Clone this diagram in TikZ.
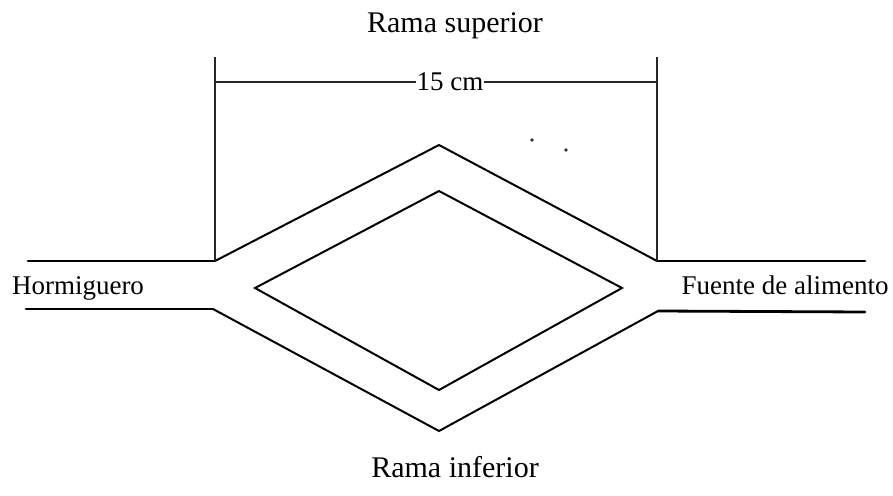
\documentclass[tikz,border=0pt]{standalone}
\usepackage{fontspec}
\setmainfont{Liberation Serif}
\begin{document}
\begin{tikzpicture}[x=1pt,y=-1pt,
  rail/.style={line width=2.8pt,line cap=round},
  wall/.style={line width=2pt,line join=miter},
  dimline/.style={line width=1.8pt,draw=black!85},
  small/.style={font=\fontsize{27}{27}\selectfont,inner sep=1pt,anchor=base},
  big/.style={font=\fontsize{30}{30}\selectfont,inner sep=0pt,anchor=base}]
\useasboundingbox (0,0) rectangle (893,495);
% coordinates
\coordinate (Lus) at (28,261);
\coordinate (Lux) at (215,261);
\coordinate (Lls) at (26,309);
\coordinate (Llx) at (213,309);
\coordinate (Rux) at (657,261);
\coordinate (Rue) at (865,261);
\coordinate (Rlx) at (658,311);
\coordinate (Rle) at (865,312);
\coordinate (Otop) at (439,145);
\coordinate (Obot) at (439,431);
\coordinate (IL) at (255,288);
\coordinate (IT) at (439,191);
\coordinate (IR) at (622,288);
\coordinate (IB) at (439,390);
\coordinate (DLt) at (215,57);
\coordinate (DRt) at (657,57);
\coordinate (DLm) at (215,82);
\coordinate (DRm) at (657,82);
% texts
\node[big] (sup) at (455,33) {Rama superior};
\node[big] (inf) at (455,477) {Rama inferior};
\node[small] (horm) at (78,294) {Hormiguero};
\node[small] (fuente) at (785,294) {Fuente de alimento};
\node[small,inner sep=0pt] (dim) at (450,90) {15 cm};
% rails
\draw[rail] (Lus) -- (Lux);
\draw[rail] (Lls) -- (Llx);
\draw[rail] (Rux) -- (Rue);
\draw[rail] (Rlx) -- (Rle);
% outer diamond
\draw[wall] (Lux) -- (Otop) -- (Rux);
\draw[wall] (Llx) -- (Obot) -- (Rlx);
% inner diamond
\draw[wall] (IL) -- (IT) -- (IR) -- (IB) -- cycle;
% dimension
\draw[dimline] (DLt) -- (Lux);
\draw[dimline] (DRt) -- (Rux);
\draw[dimline] (DLm) -- (DLm -| dim.west);
\draw[dimline] (DRm -| dim.east) -- (DRm);
% stray dots
\fill[black!80] (532,140) circle (1.8);
\fill[black!80] (566,150) circle (1.8);
\end{tikzpicture}
\end{document}
